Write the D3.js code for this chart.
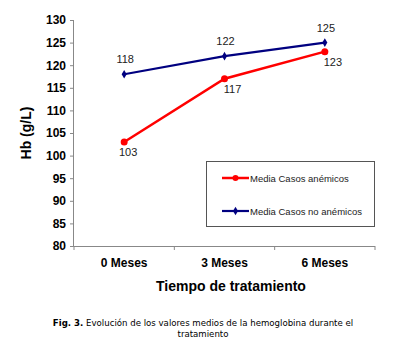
<!DOCTYPE html>
<html><head><meta charset="utf-8">
<script src="https://cdn.jsdelivr.net/npm/d3@7"></script>
<style>body{margin:0;background:#fff}svg{display:block}</style>
</head><body>
<script>
const categories = ["0 Meses", "3 Meses", "6 Meses"];
const anemicos = [103, 117, 123];
const noAnemicos = [118, 122, 125];
const yTicks = [80, 85, 90, 95, 100, 105, 110, 115, 120, 125, 130];
const seriesNames = ["Media Casos anémicos", "Media Casos no anémicos"];

(function () {
const W = 401, H = 348;
const svg = d3.select("body").append("svg").attr("width", W).attr("height", H);
const mLeft = 74, mRight = 375, mTop = 20, mBottom = 246;

const x = d3.scaleBand().domain(categories).range([mLeft, mRight]);
const y = d3.scaleLinear().domain([80, 130]).range([mBottom, mTop]);
const font = "Arial, 'Liberation Sans', sans-serif";

// Y axis
const yAxis = d3.axisLeft(y).tickValues(yTicks).tickSize(4).tickPadding(4);
const gy = svg.append("g").attr("transform", `translate(${mLeft},0)`).call(yAxis);
gy.select(".domain").attr("stroke", "#888").attr("d", `M-0.5,${mTop}V${mBottom}`);
gy.selectAll(".tick line").attr("stroke", "#888");
gy.selectAll("text").attr("font-family", font)
  .attr("font-size", 12).attr("font-weight", "bold").attr("fill", "#000");

// X axis
const xAxis = d3.axisBottom(x).tickSize(0).tickPadding(12);
const gx = svg.append("g").attr("transform", `translate(0,${mBottom})`).call(xAxis);
gx.select(".domain").attr("stroke", "#888").attr("d", `M${mLeft},0.5H${mRight}`);
gx.selectAll("text").attr("font-family", font)
  .attr("font-size", 12).attr("font-weight", "bold").attr("fill", "#000");
const bounds = categories.map(c => x(c)).concat([mRight]);
gx.selectAll(".bt").data(bounds).enter().append("line")
  .attr("x1", d => d).attr("x2", d => d).attr("y1", 0).attr("y2", 4).attr("stroke", "#888");

// Axis titles
svg.append("text").attr("transform", `translate(31,${(mTop + mBottom) / 2}) rotate(-90)`)
  .attr("text-anchor", "middle").attr("font-family", font)
  .attr("font-size", 14).attr("font-weight", "bold").text("Hb (g/L)");
svg.append("text").attr("x", 231).attr("y", 291)
  .attr("text-anchor", "middle").attr("font-family", font)
  .attr("font-size", 14).attr("font-weight", "bold").text("Tiempo de tratamiento");

const cx = c => x(c) + x.bandwidth() / 2;
const line = d3.line().x((d, i) => cx(categories[i])).y(d => y(d));

svg.append("path").datum(noAnemicos).attr("d", line).attr("fill", "none")
  .attr("stroke", "#000080").attr("stroke-width", 2.2);
svg.append("path").datum(anemicos).attr("d", line).attr("fill", "none")
  .attr("stroke", "#ff0000").attr("stroke-width", 2.5);

const diamond = d3.symbol().type(d3.symbolDiamond).size(22);
svg.selectAll(".bm").data(noAnemicos).enter().append("path")
  .attr("d", diamond).attr("fill", "#000080")
  .attr("transform", (d, i) => `translate(${cx(categories[i])},${y(d)})`);
svg.selectAll(".rm").data(anemicos).enter().append("circle")
  .attr("cx", (d, i) => cx(categories[i])).attr("cy", d => y(d)).attr("r", 3.5).attr("fill", "#ff0000");

svg.selectAll(".bl").data(noAnemicos).enter().append("text")
  .attr("x", (d, i) => cx(categories[i]) + 1).attr("y", d => y(d) - 11)
  .attr("text-anchor", "middle").attr("font-family", font).attr("font-size", 11).attr("fill", "#222")
  .text(d => d);
svg.selectAll(".rl").data(anemicos).enter().append("text")
  .attr("x", (d, i) => cx(categories[i]) + (i === 0 ? 4 : 8)).attr("y", d => y(d) + 14)
  .attr("text-anchor", "middle").attr("font-family", font).attr("font-size", 11).attr("fill", "#222")
  .text(d => d);

// Legend
const lg = svg.append("g");
lg.append("rect").attr("x", 206.5).attr("y", 161.5).attr("width", 168).attr("height", 65)
  .attr("fill", "#fff").attr("stroke", "#555").attr("stroke-width", 1);
const legendItems = [
  {name: seriesNames[0], color: "#ff0000", yy: 178, marker: "circle"},
  {name: seriesNames[1], color: "#000080", yy: 211, marker: "diamond"}
];
legendItems.forEach(it => {
  lg.append("line").attr("x1", 222).attr("x2", 249).attr("y1", it.yy).attr("y2", it.yy)
    .attr("stroke", it.color).attr("stroke-width", it.marker === "circle" ? 2.5 : 2.2);
  if (it.marker === "circle") lg.append("circle").attr("cx", 235.5).attr("cy", it.yy).attr("r", 3).attr("fill", it.color);
  else lg.append("path").attr("d", diamond).attr("fill", it.color).attr("transform", `translate(235.5,${it.yy})`);
  lg.append("text").attr("x", 250).attr("y", it.yy + 3.5).attr("font-family", font)
    .attr("font-size", 9.5).attr("fill", "#222").text(it.name);
});

// Caption
const capFont = "'DejaVu Sans', Verdana, sans-serif";
const cap = svg.append("text").attr("x", 203).attr("y", 326).attr("text-anchor", "middle")
  .attr("font-family", capFont).attr("font-size", 8.6).attr("fill", "#000");
cap.append("tspan").attr("font-weight", "bold").text("Fig. 3.");
cap.append("tspan").text(" Evolución de los valores medios de la hemoglobina durante el");
svg.append("text").attr("x", 203).attr("y", 337).attr("text-anchor", "middle")
  .attr("font-family", capFont).attr("font-size", 8.6).attr("fill", "#000")
  .text("tratamiento");
})();
</script>
</body></html>
